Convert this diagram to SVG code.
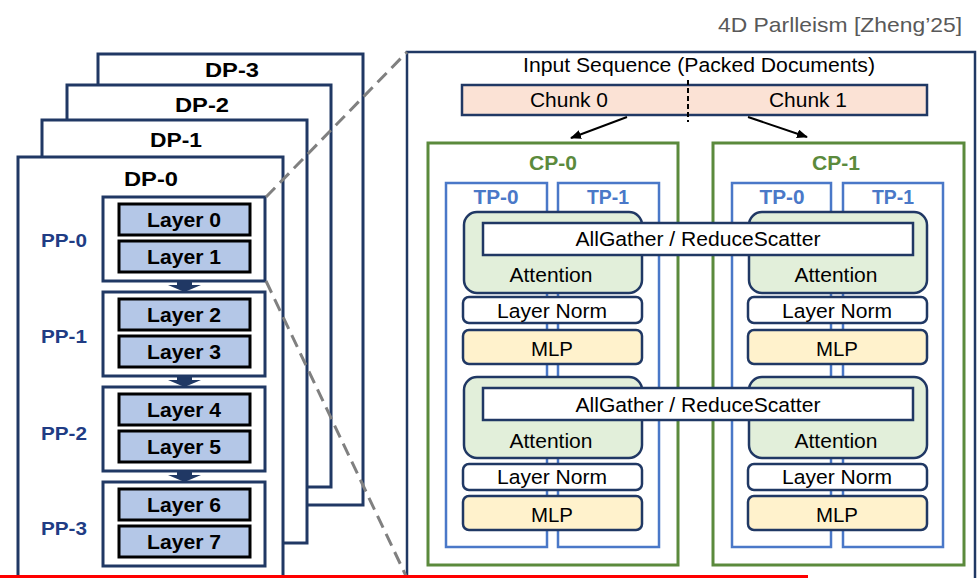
<svg xmlns="http://www.w3.org/2000/svg" width="980" height="578" viewBox="0 0 980 578">
  <style>
    text { font-family: "Liberation Sans", Arial, sans-serif; }
    .dp { fill: #ffffff; stroke: #203864; stroke-width: 3; }
    .dpl { font-size: 21px; font-weight: bold; fill: #000000; text-anchor: middle; }
    .pp { fill: #ffffff; stroke: #203864; stroke-width: 3; }
    .ppl { font-size: 19px; font-weight: bold; fill: #203c84; text-anchor: middle; }
    .layer { fill: #b4c7e7; stroke: #000000; stroke-width: 3; }
    .ll { font-size: 20px; font-weight: bold; fill: #000000; text-anchor: middle; }
    .pparrow { fill: #203864; }
    .panel { fill: #ffffff; stroke: #203864; stroke-width: 2.5; }
    .cp { fill: none; stroke: #5b8a3c; stroke-width: 3; }
    .cpl { font-size: 20px; font-weight: bold; fill: #5b8a3c; text-anchor: middle; }
    .tp { fill: none; stroke: #4a78c8; stroke-width: 2.5; }
    .tpl { font-size: 19.5px; font-weight: bold; fill: #4a78c8; text-anchor: middle; }
    .att { fill: #e2efda; stroke: #203864; stroke-width: 2.5; }
    .ln { fill: #ffffff; stroke: #203864; stroke-width: 2.5; }
    .mlp { fill: #fff2cc; stroke: #203864; stroke-width: 2.5; }
    .ag { fill: #ffffff; stroke: #203864; stroke-width: 2.5; }
    .chunk { fill: #fbe2d5; stroke: #203864; stroke-width: 2.5; }
    .t { font-size: 20.5px; fill: #000000; text-anchor: middle; }
    .zoomline { stroke: #808080; stroke-width: 3; stroke-dasharray: 13 7; fill: none; }
    .flow { stroke: #000000; stroke-width: 2; fill: none; }
  </style>
  <defs>
    <marker id="head" markerUnits="userSpaceOnUse" markerWidth="11" markerHeight="9" refX="10" refY="4.5" orient="auto">
      <path d="M0,0 L11,4.5 L0,9 z" fill="#000000"/>
    </marker>
  </defs>

  <rect width="980" height="578" fill="#ffffff"/>

  <!-- citation -->
  <text x="962" y="32" font-size="21" fill="#595959" text-anchor="end" textLength="244" lengthAdjust="spacingAndGlyphs">4D Parlleism [Zheng’25]</text>

  <!-- data-parallel replicas, back to front -->
  <g id="dp-3">
    <rect class="dp" x="98" y="54" width="265" height="451"/>
    <text class="dpl" x="232" y="77" textLength="54" lengthAdjust="spacingAndGlyphs">DP-3</text>
  </g>
  <g id="dp-2">
    <rect class="dp" x="67" y="85" width="264" height="402"/>
    <text class="dpl" x="202" y="112" textLength="54" lengthAdjust="spacingAndGlyphs">DP-2</text>
  </g>
  <g id="dp-1">
    <rect class="dp" x="42" y="120" width="265" height="423"/>
    <text class="dpl" x="176" y="147" textLength="52" lengthAdjust="spacingAndGlyphs">DP-1</text>
  </g>
  <g id="dp-0">
    <rect class="dp" x="18" y="157" width="265" height="440"/>
    <text class="dpl" x="151" y="186" textLength="54" lengthAdjust="spacingAndGlyphs">DP-0</text>
  </g>

  <!-- pipeline stage hand-off arrows -->
  <g id="pp-arrows">
    <polygon class="pparrow" points="177,280 192,280 192,285 201,285 184.5,292 168,285 177,285"/>
    <polygon class="pparrow" points="177,375 192,375 192,380 201,380 184.5,387 168,380 177,380"/>
    <polygon class="pparrow" points="177,470 192,470 192,475 201,475 184.5,482 168,475 177,475"/>
  </g>

  <!-- pipeline stages -->
  <g id="pp-0">
    <rect class="pp" x="103" y="197" width="162" height="84"/>
    <text class="ppl" x="64" y="247" textLength="46" lengthAdjust="spacingAndGlyphs">PP-0</text>
    <rect class="layer" x="119" y="204" width="131" height="31"/>
    <text class="ll" x="184" y="227" textLength="74" lengthAdjust="spacingAndGlyphs">Layer 0</text>
    <rect class="layer" x="119" y="241" width="131" height="31"/>
    <text class="ll" x="184" y="264" textLength="74" lengthAdjust="spacingAndGlyphs">Layer 1</text>
  </g>
  <g id="pp-1">
    <rect class="pp" x="103" y="292" width="162" height="84"/>
    <text class="ppl" x="64" y="343" textLength="46" lengthAdjust="spacingAndGlyphs">PP-1</text>
    <rect class="layer" x="119" y="299" width="131" height="31"/>
    <text class="ll" x="184" y="322" textLength="74" lengthAdjust="spacingAndGlyphs">Layer 2</text>
    <rect class="layer" x="119" y="336" width="131" height="31"/>
    <text class="ll" x="184" y="359" textLength="74" lengthAdjust="spacingAndGlyphs">Layer 3</text>
  </g>
  <g id="pp-2">
    <rect class="pp" x="103" y="387" width="162" height="84"/>
    <text class="ppl" x="64" y="440" textLength="46" lengthAdjust="spacingAndGlyphs">PP-2</text>
    <rect class="layer" x="119" y="394" width="131" height="31"/>
    <text class="ll" x="184" y="417" textLength="74" lengthAdjust="spacingAndGlyphs">Layer 4</text>
    <rect class="layer" x="119" y="431" width="131" height="31"/>
    <text class="ll" x="184" y="454" textLength="74" lengthAdjust="spacingAndGlyphs">Layer 5</text>
  </g>
  <g id="pp-3">
    <rect class="pp" x="103" y="482" width="162" height="84"/>
    <text class="ppl" x="64" y="535" textLength="46" lengthAdjust="spacingAndGlyphs">PP-3</text>
    <rect class="layer" x="119" y="489" width="131" height="31"/>
    <text class="ll" x="184" y="512" textLength="74" lengthAdjust="spacingAndGlyphs">Layer 6</text>
    <rect class="layer" x="119" y="526" width="131" height="31"/>
    <text class="ll" x="184" y="549" textLength="74" lengthAdjust="spacingAndGlyphs">Layer 7</text>
  </g>

  <!-- expanded view of one pipeline stage -->
  <g id="stage-detail">
    <rect class="panel" x="407" y="52" width="568" height="540"/>
    <text class="t" x="699" y="72" textLength="352" lengthAdjust="spacingAndGlyphs">Input Sequence (Packed Documents)</text>
  </g>

  <g id="input-sequence">
    <rect class="chunk" x="462" y="85" width="465" height="30"/>
    <line x1="688" y1="80" x2="688" y2="122" stroke="#000000" stroke-width="2" stroke-dasharray="5 3"/>
    <text class="t" x="569" y="107" textLength="78" lengthAdjust="spacingAndGlyphs">Chunk 0</text>
    <text class="t" x="808" y="107" textLength="78" lengthAdjust="spacingAndGlyphs">Chunk 1</text>
  </g>

  <g id="cp-0">
    <rect class="cp" x="428" y="143" width="250" height="422"/>
    <text class="cpl" x="553" y="170" textLength="48" lengthAdjust="spacingAndGlyphs">CP-0</text>
    <rect class="tp" x="446" y="183" width="101" height="364"/>
    <text class="tpl" x="496" y="204" textLength="45" lengthAdjust="spacingAndGlyphs">TP-0</text>
    <rect class="tp" x="558" y="183" width="101" height="364"/>
    <text class="tpl" x="608" y="204" textLength="42" lengthAdjust="spacingAndGlyphs">TP-1</text>
    <rect class="att" x="464" y="212" width="178" height="81" rx="13"/>
    <text class="t" x="551" y="282" textLength="83" lengthAdjust="spacingAndGlyphs">Attention</text>
    <rect class="ln" x="463" y="297" width="179" height="26" rx="6"/>
    <text class="t" x="552" y="318" textLength="110" lengthAdjust="spacingAndGlyphs">Layer Norm</text>
    <rect class="mlp" x="463" y="330" width="179" height="34" rx="6"/>
    <text class="t" x="552" y="356" textLength="42" lengthAdjust="spacingAndGlyphs">MLP</text>
    <rect class="att" x="464" y="377" width="178" height="81" rx="13"/>
    <text class="t" x="551" y="448" textLength="83" lengthAdjust="spacingAndGlyphs">Attention</text>
    <rect class="ln" x="463" y="464" width="179" height="26" rx="6"/>
    <text class="t" x="552" y="484" textLength="110" lengthAdjust="spacingAndGlyphs">Layer Norm</text>
    <rect class="mlp" x="463" y="496" width="179" height="34" rx="6"/>
    <text class="t" x="552" y="522" textLength="42" lengthAdjust="spacingAndGlyphs">MLP</text>
  </g>

  <g id="cp-1">
    <rect class="cp" x="713" y="143" width="251" height="422"/>
    <text class="cpl" x="836" y="170" textLength="48" lengthAdjust="spacingAndGlyphs">CP-1</text>
    <rect class="tp" x="732" y="183" width="99" height="364"/>
    <text class="tpl" x="782" y="204" textLength="45" lengthAdjust="spacingAndGlyphs">TP-0</text>
    <rect class="tp" x="843" y="183" width="100" height="364"/>
    <text class="tpl" x="893" y="204" textLength="42" lengthAdjust="spacingAndGlyphs">TP-1</text>
    <rect class="att" x="749" y="212" width="178" height="81" rx="13"/>
    <text class="t" x="836" y="282" textLength="83" lengthAdjust="spacingAndGlyphs">Attention</text>
    <rect class="ln" x="748" y="297" width="179" height="26" rx="6"/>
    <text class="t" x="837" y="318" textLength="110" lengthAdjust="spacingAndGlyphs">Layer Norm</text>
    <rect class="mlp" x="748" y="330" width="179" height="34" rx="6"/>
    <text class="t" x="837" y="356" textLength="42" lengthAdjust="spacingAndGlyphs">MLP</text>
    <rect class="att" x="749" y="377" width="178" height="81" rx="13"/>
    <text class="t" x="836" y="448" textLength="83" lengthAdjust="spacingAndGlyphs">Attention</text>
    <rect class="ln" x="748" y="464" width="179" height="26" rx="6"/>
    <text class="t" x="837" y="484" textLength="110" lengthAdjust="spacingAndGlyphs">Layer Norm</text>
    <rect class="mlp" x="748" y="496" width="179" height="34" rx="6"/>
    <text class="t" x="837" y="522" textLength="42" lengthAdjust="spacingAndGlyphs">MLP</text>
  </g>

  <!-- collectives spanning both context-parallel ranks -->
  <g id="allgather-1">
    <rect class="ag" x="483" y="223" width="430" height="32"/>
    <text class="t" x="698" y="246" textLength="245" lengthAdjust="spacingAndGlyphs">AllGather / ReduceScatter</text>
  </g>
  <g id="allgather-2">
    <rect class="ag" x="483" y="388" width="430" height="32"/>
    <text class="t" x="698" y="412" textLength="245" lengthAdjust="spacingAndGlyphs">AllGather / ReduceScatter</text>
  </g>

  <g id="connectors">
    <line class="flow" x1="627" y1="117" x2="571" y2="138" marker-end="url(#head)"/>
    <line class="flow" x1="748" y1="117" x2="807" y2="137" marker-end="url(#head)"/>
    <line class="zoomline" x1="266" y1="197" x2="407" y2="52"/>
    <line class="zoomline" x1="266" y1="281" x2="407" y2="578"/>
  </g>

  <!-- red bar along the bottom edge -->
  <rect x="-2" y="575" width="810" height="10" fill="#ff0000"/>
</svg>
